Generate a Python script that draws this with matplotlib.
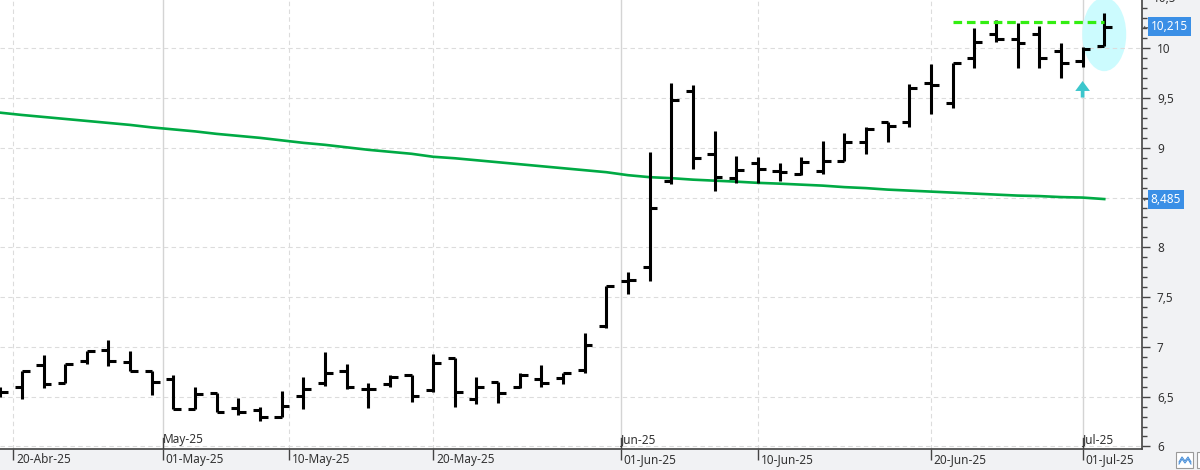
import numpy as np
import pandas as pd
import matplotlib
matplotlib.use('Agg')
import matplotlib.pyplot as plt
import matplotlib.transforms as mtransforms
from matplotlib.patches import Ellipse, FancyArrow, Rectangle
from matplotlib.ticker import FixedLocator, MultipleLocator, FuncFormatter

plt.rcParams['font.family'] = ['Noto Sans', 'DejaVu Sans']

# trading days (Spanish market: closed 18-Apr, 21-Apr, 01-May)
holidays = ['2025-04-18', '2025-04-21', '2025-05-01']
days = pd.bdate_range('2025-04-17', '2025-07-02')
days = days[~days.isin(pd.to_datetime(holidays))]

opens = [6.55, 6.60, 6.82, 6.64, 6.86, 6.97, 6.85, 6.76, 6.68, 6.38,
         6.54, 6.385, 6.37, 6.30, 6.51, 6.64, 6.76, 6.58, 6.63, 6.72,
         6.57, 6.89, 6.48, 6.65, 6.60, 6.68, 6.69, 6.77, 7.21, 7.66,
         7.80, 8.67, 9.57, 8.94, 8.70, 8.85, 8.77, 8.74, 8.77, 8.87,
         9.06, 9.26, 9.26, 9.655, 9.45, 9.905, 10.14, 10.095, 10.14, 9.975,
         9.875, 10.025]
highs = [6.60, 6.76, 6.92, 6.83, 6.96, 7.07, 6.96, 6.76, 6.72, 6.60,
         6.54, 6.49, 6.40, 6.56, 6.70, 6.95, 6.83, 6.64, 6.72, 6.72,
         6.93, 6.89, 6.70, 6.65, 6.74, 6.82, 6.74, 7.14, 7.61, 7.75,
         8.96, 9.65, 9.63, 9.17, 8.92, 8.91, 8.845, 8.905, 9.07, 9.15,
         9.21, 9.26, 9.64, 9.84, 9.85, 10.20, 10.285, 10.255, 10.225, 10.05,
         10.015, 10.35]
lows = [6.50, 6.48, 6.59, 6.64, 6.83, 6.81, 6.76, 6.52, 6.38, 6.38,
        6.345, 6.32, 6.26, 6.295, 6.375, 6.61, 6.575, 6.385, 6.60, 6.445,
        6.545, 6.40, 6.425, 6.435, 6.585, 6.595, 6.625, 6.74, 7.19, 7.53,
        7.665, 8.64, 8.785, 8.565, 8.645, 8.65, 8.67, 8.73, 8.735, 8.87,
        8.935, 9.06, 9.21, 9.335, 9.40, 9.805, 10.065, 9.805, 9.805, 9.70,
        9.815, 10.025]
closes = [6.545, 6.76, 6.625, 6.83, 6.96, 6.855, 6.76, 6.645, 6.38, 6.53,
          6.345, 6.35, 6.295, 6.41, 6.575, 6.74, 6.595, 6.575, 6.695, 6.51,
          6.835, 6.545, 6.60, 6.535, 6.72, 6.635, 6.74, 7.015, 7.61, 7.675,
          8.40, 9.48, 8.90, 8.71, 8.78, 8.79, 8.76, 8.86, 8.87, 9.06,
          9.19, 9.215, 9.605, 9.635, 9.85, 10.065, 10.095, 10.055, 9.905, 9.85,
          9.995, 10.215]
sma = [9.353, 9.33, 9.31, 9.29, 9.27, 9.25, 9.23, 9.205, 9.185, 9.165,
       9.14, 9.12, 9.10, 9.075, 9.05, 9.03, 9.005, 8.98, 8.96, 8.94,
       8.91, 8.895, 8.875, 8.855, 8.835, 8.815, 8.795, 8.775, 8.755, 8.725,
       8.705, 8.695, 8.68, 8.67, 8.66, 8.648, 8.64, 8.63, 8.62, 8.605,
       8.595, 8.58, 8.57, 8.56, 8.55, 8.54, 8.53, 8.52, 8.515, 8.505,
       8.50, 8.485]

last_close = 10.215
sma_last = 8.485
resist_level = 10.26
resist_from = '2025-06-23'

date_ticks = ['2025-04-20', '2025-05-01', '2025-05-10', '2025-05-20',
              '2025-06-01', '2025-06-10', '2025-06-20', '2025-07-01']
month_abbr = {4: 'Abr', 5: 'May', 6: 'Jun', 7: 'Jul'}

x = np.arange(len(days))
day_ord = days.map(pd.Timestamp.toordinal).values
tick_dates = pd.to_datetime(date_ticks)
tick_pos = np.interp([d.toordinal() for d in tick_dates], day_ord, x)
tick_lbl = [f'{d.day:02d}-{month_abbr[d.month]}-{d.strftime("%y")}' for d in tick_dates]

fig = plt.figure(figsize=(12, 4.7), dpi=100, facecolor='#f1f2f4')
ax = fig.add_axes([0, 21 / 470, 1141.7 / 1200, 449 / 470])
ax.set_facecolor('white')
ax.set_xlim(-0.01, 52.73)
ax.set_ylim(5.974, 10.485)

for s in ['top', 'left']:
    ax.spines[s].set_visible(False)
for s in ['bottom', 'right']:
    ax.spines[s].set_color('#444444')
    ax.spines[s].set_linewidth(1.2)

# y axis
ax.yaxis.tick_right()
ax.yaxis.set_major_locator(MultipleLocator(0.5))
ax.yaxis.set_minor_locator(MultipleLocator(0.1))
ax.yaxis.set_major_formatter(FuncFormatter(
    lambda v, p: '' if abs(v - 8.5) < 1e-6 else f'{v:g}'.replace('.', ',')))
ax.tick_params(axis='y', which='major', length=6, width=1, color='#444444',
               labelsize=8.5, labelcolor='#333333', pad=5)
ax.tick_params(axis='y', which='minor', length=3.5, width=1, color='#444444')
ax.grid(axis='y', which='major', ls=(0, (4, 3)), color='#dcdcdc', lw=0.8, zorder=0)
ax.annotate('10,5', xy=(1, 10.5), xycoords=('axes fraction', 'data'),
            xytext=(11, 0), textcoords='offset pixels', ha='left', va='center',
            fontsize=8.5, color='#333333', annotation_clip=False)

# x axis: labels sit beside the tick marks
ax.xaxis.set_major_locator(FixedLocator(tick_pos))
ax.set_xticklabels(tick_lbl)
ax.tick_params(axis='x', length=8, width=1, color='#444444', labelsize=8.5,
               labelcolor='#333333', pad=-5)
offs = mtransforms.ScaledTranslation(2 / 72, 0, fig.dpi_scale_trans)
for lab in ax.get_xticklabels():
    lab.set_horizontalalignment('left')
    lab.set_transform(lab.get_transform() + offs)

trans = mtransforms.blended_transform_factory(ax.transData, ax.transAxes)
for d, p in zip(tick_dates, tick_pos):
    if d.day == 1:
        ax.axvline(p, color='#d4d4d4', lw=1, zorder=0)
        ax.plot([p, p], [0, 0.024], transform=trans, color='#444444', lw=1)
        ax.text(p, 0.022, f'{month_abbr[d.month]}-{d.strftime("%y")}', transform=trans,
                ha='left', va='center', fontsize=8.5, color='#333333')
    else:
        ax.axvline(p, color='#dcdcdc', lw=0.8, ls=(0, (4, 3)), zorder=0)

# highlight ellipse and arrow
ax.add_patch(Ellipse((x[-1], 10.14), 2.03, 0.74, color='#ccfbfe', lw=0, zorder=1))
ax.add_patch(FancyArrow(x[-2], 9.505, 0, 0.166, width=0.17, head_width=0.68,
                        head_length=0.1, length_includes_head=True,
                        color='#3cc6cc', lw=0, zorder=2))

# moving average
ax.plot(x, sma, color='#00aa44', lw=1.9, zorder=2)

# OHLC bars
ax.vlines(x, lows, highs, color='black', lw=2.2, zorder=3)
ax.hlines(opens, x - 0.33, x, color='black', lw=2.2, zorder=3)
ax.hlines(closes, x, x + 0.36, color='black', lw=2.2, zorder=3)

# resistance line
r0 = days.get_loc(pd.Timestamp(resist_from))
ax.hlines(resist_level, x[r0], x[-1], colors='#33ee11', lw=2.3,
          linestyles=(0, (2.7, 1.5)), zorder=4)

# price labels on the right axis
for val in [last_close, sma_last]:
    ax.annotate(f'{val:.3f}'.replace('.', ','), xy=(1, val),
                xycoords=('axes fraction', 'data'), xytext=(9, 0),
                textcoords='offset pixels', ha='left', va='center',
                fontsize=8.5, color='white', annotation_clip=False, zorder=6,
                bbox=dict(boxstyle='square,pad=0.25', fc='#3a8fe6', ec='none'))
    ax.annotate('\u2190', xy=(1, val), xycoords=('axes fraction', 'data'),
                xytext=(1, 0), textcoords='offset pixels', ha='left', va='center',
                fontsize=6, color='#444444', annotation_clip=False)

# little toolbar icons bottom right
fig.patches.append(Rectangle((1176 / 1200, 2 / 470), 17 / 1200, 16 / 470,
                             transform=fig.transFigure, fc='white', ec='#9a9a9a', lw=0.8))
fig.patches.append(Rectangle((1197 / 1200, 2 / 470), 17 / 1200, 16 / 470,
                             transform=fig.transFigure, fc='white', ec='#9a9a9a', lw=0.8))
zx = np.array([1179, 1182, 1185, 1188, 1191]) / 1200
fig.lines.append(plt.Line2D(zx, np.array([8, 13, 9, 13, 8]) / 470,
                            transform=fig.transFigure, color='#4a90d9', lw=0.8))
fig.lines.append(plt.Line2D(zx, np.array([6, 11, 7, 11, 6]) / 470,
                            transform=fig.transFigure, color='#4a90d9', lw=0.8))

fig.savefig('out.png', dpi=100, facecolor=fig.get_facecolor())
